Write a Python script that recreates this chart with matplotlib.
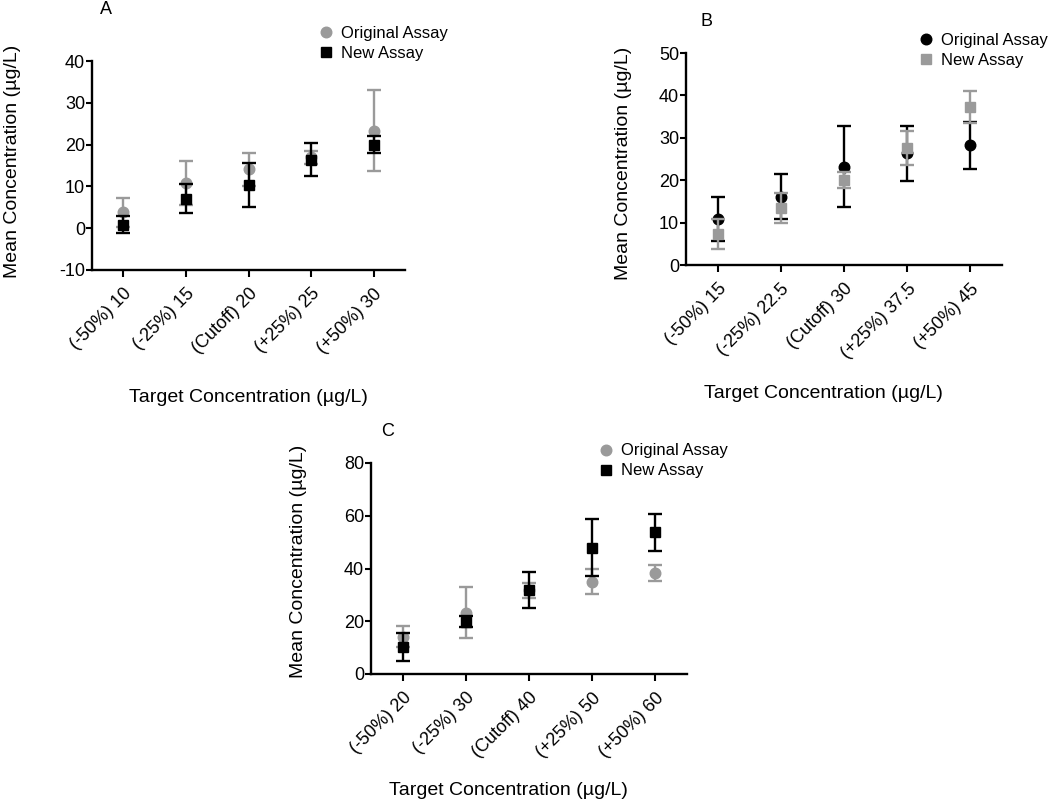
import matplotlib
matplotlib.use("Agg")
import matplotlib.pyplot as plt
from matplotlib.lines import Line2D
import numpy as np

plt.rcParams['font.family'] = ['Liberation Sans', 'DejaVu Sans']
plt.rcParams['axes.unicode_minus'] = False

gray = "#9a9a9a"
black = "#000000"

# panel A
labels_a = ["(-50%) 10", "(-25%) 15", "(Cutoff) 20", "(+25%) 25", "(+50%) 30"]
orig_a = [3.8, 10.8, 14.1, 16.95, 23.3]
orig_sd_a = [3.4, 5.2, 4.0, 1.55, 9.65]
new_a = [0.8, 7.1, 10.3, 16.4, 20.0]
new_sd_a = [2.0, 3.55, 5.2, 4.0, 2.0]

# panel B
labels_b = ["(-50%) 15", "(-25%) 22.5", "(Cutoff) 30", "(+25%) 37.5", "(+50%) 45"]
orig_b = [10.8, 16.1, 23.2, 26.3, 28.2]
orig_sd_b = [5.2, 5.3, 9.6, 6.4, 5.55]
new_b = [7.3, 13.5, 20.0, 27.7, 37.3]
new_sd_b = [3.6, 3.5, 1.9, 4.0, 3.7]

# panel C
labels_c = ["(-50%) 20", "(-25%) 30", "(Cutoff) 40", "(+25%) 50", "(+50%) 60"]
orig_c = [14.2, 23.3, 31.7, 35.0, 38.3]
orig_sd_c = [4.0, 9.7, 2.7, 4.7, 2.9]
new_c = [10.2, 19.8, 31.7, 47.9, 53.8]
new_sd_c = [5.2, 2.1, 6.8, 10.7, 7.0]

W, H = 1050, 802
fig = plt.figure(figsize=(W / 100, H / 100), dpi=100)


def px_axes(x0, y0, x1, y1):
    # pixel box (top-left origin) -> figure fraction
    return fig.add_axes([x0 / W, 1 - y1 / H, (x1 - x0) / W, (y1 - y0) / H])


def panel(ax, labels, orig, orig_sd, new, new_sd, orig_col, new_col, yticks,
          leg_xy, letter, letter_xy, xlab_xy, ylab_xy):
    x = np.arange(len(labels))
    ax.errorbar(x, orig, yerr=orig_sd, fmt='o', color=orig_col, ms=7.6,
                capsize=5, elinewidth=1.7, capthick=1.7, zorder=2)
    ax.errorbar(x, new, yerr=new_sd, fmt='s', color=new_col, ms=7.0,
                capsize=5, elinewidth=1.7, capthick=1.7, zorder=3)
    ax.set_xlim(-0.5, len(labels) - 0.5)
    ax.set_ylim(yticks[0], yticks[-1])
    ax.set_yticks(yticks)
    ax.set_xticks(x)
    ax.set_xticklabels(labels, rotation=45, ha='right', rotation_mode='anchor')
    for s in ['top', 'right']:
        ax.spines[s].set_visible(False)
    for s in ['left', 'bottom']:
        ax.spines[s].set_linewidth(1.7)
    ax.tick_params(axis='y', length=4, width=1.5, pad=1, labelsize=13)
    ax.tick_params(axis='x', length=5, width=1.5, pad=6, labelsize=13)
    ax.set_xlabel("Target Concentration (µg/L)", fontsize=14)
    ax.set_ylabel("Mean Concentration (µg/L)", fontsize=14)
    ax.xaxis.set_label_coords(*xlab_xy)
    ax.yaxis.set_label_coords(*ylab_xy)

    handles = [Line2D([], [], ls='none', marker='o', color=orig_col, ms=7.6),
               Line2D([], [], ls='none', marker='s', color=new_col, ms=7.0)]
    fig.legend(handles, ["Original Assay", "New Assay"], loc='center left',
               bbox_to_anchor=(leg_xy[0] / W, 1 - leg_xy[1] / H),
               frameon=False, fontsize=12, handlelength=1.0,
               handletextpad=0.4, labelspacing=0.3, borderpad=0,
               borderaxespad=0)
    fig.text(letter_xy[0] / W, 1 - letter_xy[1] / H, letter, fontsize=13,
             ha='center', va='center')


ax_a = px_axes(92, 61, 405, 270)
panel(ax_a, labels_a, orig_a, orig_sd_a, new_a, new_sd_a, gray, black,
      [-10, 0, 10, 20, 30, 40], (318, 43.5), "A", (106, 9),
      (0.5, -0.569), (-0.228, 0.52))

ax_b = px_axes(686, 53, 1002, 265)
panel(ax_b, labels_b, orig_b, orig_sd_b, new_b, new_sd_b, black, gray,
      [0, 10, 20, 30, 40, 50], (918, 50), "B", (706, 21),
      (0.434, -0.566), (-0.171, 0.481))

ax_c = px_axes(371, 463, 687, 674)
panel(ax_c, labels_c, orig_c, orig_sd_c, new_c, new_sd_c, gray, black,
      [0, 20, 40, 60, 80], (598, 461), "C", (388, 431),
      (0.434, -0.512), (-0.2025, 0.536))

fig.savefig("out.png", dpi=100)
